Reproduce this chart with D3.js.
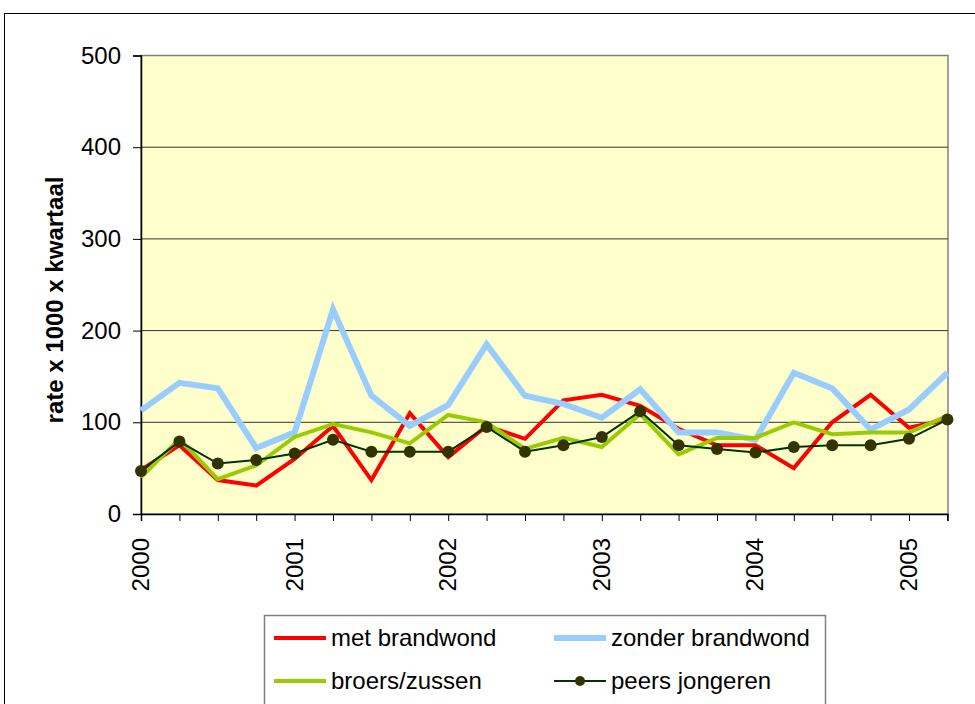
<!DOCTYPE html>
<html><head><meta charset="utf-8">
<script src="https://cdn.jsdelivr.net/npm/d3@7"></script>
<style>body{margin:0;background:#fff}svg{display:block;font-family:"Liberation Sans",Arial,sans-serif}</style>
</head><body><svg id="c" width="975" height="704"></svg>
<script>
const quarters = d3.range(22); // 2000Q1 .. 2005Q2
const yearLabels = ["2000","2001","2002","2003","2004","2005"];
const yTicks = [0,100,200,300,400,500];
const metBrandwond = [48,75,37,31,60,96,37,110,62,96,82,124,130,118,93,75,75,50,100,130,94,103];
const zonderBrandwond = [113,143,137,72,89,223,129,96,119,185,129,120,105,136,89,89,81,154,137,92,114,154];
const broersZussen = [40,82,38,53,84,98,89,77,108,100,71,83,73,109,65,83,83,100,87,89,89,107];
const peersJongeren = [47,79,55,59,66,81,68,68,68,95,68,75,84,112,75,71,67,73,75,75,82,103];
const seriesNames = ["met brandwond","zonder brandwond","broers/zussen","peers jongeren"];

const svg = d3.select("#c");
const L=141, R=948, T=55.5, B=514;
const x = d3.scaleLinear().domain([0,21]).range([L,947.4]);
const y = d3.scaleLinear().domain([0,500]).range([B,T]);

// outer frame
svg.append("rect").attr("x",4.5).attr("y",13.5).attr("width",980).attr("height",700)
  .attr("fill","#fff").attr("stroke","#000").attr("stroke-width",1);

// plot area
svg.append("rect").attr("x",L).attr("y",T).attr("width",R-L).attr("height",B-T)
  .attr("fill","#FFFFCC").attr("stroke","#808080").attr("stroke-width",1.5);

// gridlines
svg.append("g").selectAll("line").data(yTicks.filter(v=>v>0&&v<500)).join("line")
  .attr("x1",L).attr("x2",R).attr("y1",d=>y(d)).attr("y2",d=>y(d))
  .attr("stroke","#333").attr("stroke-width",1);

// y axis
const ya = svg.append("g").attr("transform",`translate(${L},0)`)
  .call(d3.axisLeft(y).tickValues(yTicks).tickSize(8).tickPadding(12).tickFormat(d3.format("d")));
ya.select(".domain").attr("stroke","#000").attr("stroke-width",1.5);
ya.selectAll(".tick line").attr("stroke","#000");
ya.selectAll("text").attr("font-size",24).attr("fill","#000").attr("font-family","Liberation Sans, Arial, sans-serif");

// x axis
const xa = svg.append("g").attr("transform",`translate(0,${B})`)
  .call(d3.axisBottom(x).tickValues(quarters).tickSize(7).tickFormat(""));
xa.select(".domain").attr("stroke","#000").attr("stroke-width",1.5);
xa.selectAll(".tick line").attr("stroke","#000");
svg.append("g").selectAll("text").data(yearLabels).join("text")
  .attr("transform",(d,i)=>`translate(${x(i*4)+8},${B+24}) rotate(-90)`)
  .attr("text-anchor","end").attr("font-size",24).text(d=>d);

// y title
svg.append("text").attr("transform",`translate(63,300) rotate(-90)`)
  .attr("text-anchor","middle").attr("font-size",24).attr("font-weight","bold").text("rate x 1000 x kwartaal");

const line = d3.line().x((d,i)=>x(i)).y(d=>y(d));
const styles = [
  {data:metBrandwond,color:"#FF0000",w:4},
  {data:zonderBrandwond,color:"#99CCFF",w:6},
  {data:broersZussen,color:"#99CC00",w:4},
  {data:peersJongeren,color:"#003300",w:2,marker:true}
];
styles.forEach(s=>{
  svg.append("path").datum(s.data).attr("d",line).attr("fill","none")
    .attr("stroke",s.color).attr("stroke-width",s.w).attr("stroke-linejoin","miter");
  if(s.marker){
    svg.append("g").selectAll("circle").data(s.data).join("circle")
      .attr("cx",(d,i)=>x(i)).attr("cy",d=>y(d)).attr("r",6).attr("fill","#333300");
  }
});

// legend
svg.append("rect").attr("x",264.5).attr("y",615.5).attr("width",561).attr("height",120)
  .attr("fill","#fff").attr("stroke","#808080").attr("stroke-width",1.5);
const legPos = [[274,638],[554,638],[274,681],[554,681]];
styles.forEach((s,i)=>{
  const [lx,ly]=legPos[i];
  svg.append("line").attr("x1",lx).attr("x2",lx+52).attr("y1",ly).attr("y2",ly)
    .attr("stroke",s.color).attr("stroke-width",s.w);
  if(s.marker) svg.append("circle").attr("cx",lx+26).attr("cy",ly).attr("r",5).attr("fill","#333300");
  svg.append("text").attr("x",lx+57).attr("y",ly+8).attr("font-size",24).text(seriesNames[i]);
});
</script></body></html>
